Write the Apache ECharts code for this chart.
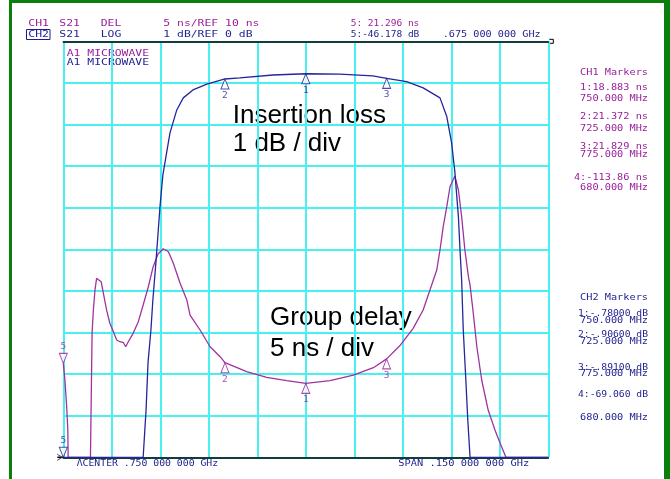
<!DOCTYPE html>
<html><head><meta charset="utf-8">
<script src="https://cdn.jsdelivr.net/npm/echarts@6/dist/echarts.min.js"></script>
<style>html,body{margin:0;padding:0;background:#fff}#c{width:670px;height:479px}</style>
</head><body><div id="c"></div>
<script>
// ---- data ----
const freqIL = [675, 699.7, 700.6, 701.2, 702.1, 702.7, 703.7, 704.9, 705.8, 707.1, 708.0, 710.1, 712.1, 715.1, 719.4, 725, 729.6, 739.8, 750, 760.5, 770.7, 775, 781.2, 786.3, 791.5, 793.6, 795.1, 796.1, 797.2, 797.7, 798.2, 798.7, 799.5, 800.1, 800.8, 825];
const insertionLoss = [-10, -10, -8.86, -7.73, -6.94, -6.22, -5.26, -3.98, -3.21, -2.61, -2.20, -1.65, -1.36, -1.17, -1.03, -0.906, -0.88, -0.81, -0.78, -0.79, -0.83, -0.891, -0.97, -1.12, -1.36, -1.81, -2.44, -3.14, -4.22, -5.02, -5.74, -6.94, -8.14, -9.10, -10, -10];
const freqGD = [675.0, 675.5, 676.05, 676.4, 676.5, 683.4, 683.9, 684.3, 684.8, 685.3, 685.8, 686.7, 687.4, 688.4, 689.4, 690.5, 691.5, 692.5, 693.6, 694.3, 695.1, 696.6, 698.2, 699.7, 701.3, 702.8, 704.3, 705.9, 707.5, 709.0, 711.1, 713.2, 714.2, 717.3, 720.4, 723.5, 725, 731.7, 737.9, 744.1, 750, 757.5, 764.7, 770.9, 775, 779.3, 783.2, 786.3, 788.4, 790.5, 791.5, 792.5, 793.6, 794.6, 796.1, 797.2, 798.2, 799.2, 800.3, 800.8, 801.8, 802.9, 804.4, 806.4, 808.5, 810.1, 811.9, 825];
const groupDelay = [21.30, 19.29, 16.08, 13.28, 10, 10, 24.94, 27.70, 30.11, 31.51, 31.71, 31.11, 29.71, 27.70, 26.11, 25.10, 24.10, 23.89, 23.77, 23.29, 23.89, 24.90, 26.30, 28.30, 30.50, 32.91, 34.43, 35.07, 34.71, 33.35, 30.95, 28.91, 27.10, 25.30, 23.29, 22.09, 21.372, 20.29, 19.61, 19.21, 18.883, 19.21, 19.89, 20.77, 21.829, 23.50, 25.50, 27.70, 30.11, 32.51, 34.92, 37.72, 40.12, 42.52, 43.81, 42.13, 38.92, 34.92, 31.71, 30.7, 27.31, 23.29, 19.29, 15.68, 13.28, 11.68, 10, 10];

const markerIds = ['1', '2', '3', '5'];
const markerFreq = [750, 725, 775, 675];
const markerDelay = [18.883, 21.372, 21.829, 21.296];
const markerLoss = [-0.78, -0.906, -0.891, -46.178];

const ch1Readout = ['1:18.883 ns', '2:21.372 ns', '3:21.829 ns', '4:-113.86 ns'];
const markerFreqText = ['750.000 MHz', '725.000 MHz', '775.000 MHz', '680.000 MHz'];
const ch2Readout = ['1:-.78000 dB', '2:-.90600 dB', '3:-.89100 dB', '4:-69.060 dB'];

const fMin = 675, fMax = 825, fStep = 15;
const dbMin = -10, dbMax = 0, dbStep = 1;
const nsMin = 10, nsMax = 60, nsStep = 5;

// ---- styles ----
const PURPLE = '#9a1e9a', BLUE = '#1e1e8e', TRACE_P = '#a032a0', TRACE_B = '#26269a';
const CYAN = '#48f0f0', GREEN = '#0b7f0b';
const MONO = '"DejaVu Sans Mono", monospace';
const SANS = '"Liberation Sans", Arial, sans-serif';

function txt(x, y, s, color, sx, align) {
  return { type: 'text', x: x, y: y, scaleX: sx || 1, silent: true,
    style: { text: s, fill: color, font: '9.5px ' + MONO, align: align || 'left', verticalAlign: 'middle' } };
}
function big(x, y, s) {
  return { type: 'text', x: x, y: y, silent: true,
    style: { text: s, fill: '#000', font: '26px ' + SANS, align: 'left', verticalAlign: 'middle' } };
}

const graphics = [
  { type: 'rect', shape: { x: 9, y: 0, width: 3, height: 479 }, style: { fill: GREEN } },
  { type: 'rect', shape: { x: 9, y: 0, width: 661, height: 3 }, style: { fill: GREEN } },
  { type: 'rect', shape: { x: 664, y: 0, width: 6, height: 479 }, style: { fill: GREEN } },
  // header
  txt(28.3, 24, 'CH1', PURPLE, 1.2), txt(59.3, 24, 'S21', PURPLE, 1.2), txt(100.7, 24, 'DEL', PURPLE, 1.2),
  txt(163.3, 24, '5 ns/REF 10 ns', PURPLE, 1.2), txt(350.7, 24, '5: 21.296 ns', PURPLE, 1.0),
  { type: 'rect', shape: { x: 26.5, y: 29.5, width: 23.5, height: 10 }, style: { fill: 'none', stroke: BLUE, lineWidth: 1 } },
  txt(28.3, 34.5, 'CH2', BLUE, 1.2), txt(59.3, 34.5, 'S21', BLUE, 1.2), txt(100.7, 34.5, 'LOG', BLUE, 1.2),
  txt(163.3, 34.5, '1 dB/REF 0 dB', BLUE, 1.2), txt(350.7, 34.5, '5:-46.178 dB', BLUE, 1.0),
  txt(442.7, 34.5, '.675 000 000 GHz', BLUE, 1.07),
  txt(66.7, 54, 'A1 MICROWAVE', PURPLE, 1.2), txt(66.7, 62.7, 'A1 MICROWAVE', BLUE, 1.2),
  // bottom
  txt(76.7, 463.3, '\u039BCENTER .750 000 000 GHz', BLUE, 1.03),
  txt(398.3, 463.3, 'SPAN .150 000 000 GHz', BLUE, 1.09),
  // right panel
  txt(648, 72.3, 'CH1 Markers', PURPLE, 1.08, 'right'),
  txt(648, 297.3, 'CH2 Markers', BLUE, 1.08, 'right'),
  // annotations
  big(232.7, 115.7, 'Insertion loss'), big(232.7, 144, '1 dB / div'),
  big(270, 317.5, 'Group delay'), big(270, 349, '5 ns / div')
];
const ch1Y = [87.3, 116.7, 146.7, 177.3], ch1FY = [98.3, 129, 154.3, 187.7];
const ch2Y = [313.3, 335, 367.3, 395], ch2FY = [320.7, 341.7, 373.3, 417.3];
ch1Readout.forEach((s, i) => { graphics.push(txt(648, ch1Y[i], s, PURPLE, 1.08, 'right')); graphics.push(txt(648, ch1FY[i], markerFreqText[i], PURPLE, 1.08, 'right')); });
ch2Readout.forEach((s, i) => { graphics.push(txt(648, ch2Y[i], s, BLUE, 1.02, 'right')); graphics.push(txt(648, ch2FY[i], markerFreqText[i], BLUE, 1.08, 'right')); });

const UP = 'path://M5,0L10,10L0,10Z', DOWN = 'path://M0,0L10,0L5,10Z';
function markerData(vals, lo) {
  return markerIds.map((id, i) => {
    const down = id === '5';
    return { value: [markerFreq[i], Math.max(vals[i], lo)], name: id,
      symbol: down ? DOWN : UP, symbolOffset: [0, down ? -5 : 5],
      label: { position: down ? 'top' : 'bottom', distance: 1 } };
  });
}
function markerSeries(vals, lo, yi, color) {
  return { type: 'scatter', yAxisIndex: yi, clip: false, z: 5, symbolSize: [8, 10],
    itemStyle: { color: '#fff', borderColor: color, borderWidth: 1 },
    label: { show: true, formatter: p => p.name, color: color, fontFamily: MONO, fontSize: 9.5 },
    data: markerData(vals, lo) };
}

const chart = echarts.init(document.getElementById('c'), null, { renderer: 'canvas' });
chart.setOption({
  animation: false,
  backgroundColor: '#fff',
  grid: { left: 63.3, right: 121.7, top: 41.3, bottom: 21.7 },
  xAxis: [
    { type: 'value', min: fMin, max: fMax, interval: fStep,
      axisLine: { show: true, onZero: false, lineStyle: { color: '#000', width: 1.5 } },
      axisTick: { show: false }, axisLabel: { show: false },
      splitLine: { show: true, lineStyle: { color: CYAN, width: 2 } } },
    { type: 'value', position: 'top', min: fMin, max: fMax, interval: fStep,
      axisLine: { show: true, onZero: false, lineStyle: { color: '#000', width: 1.5 } },
      axisTick: { show: false }, axisLabel: { show: false }, splitLine: { show: false } }
  ],
  yAxis: [
    { type: 'value', min: dbMin, max: dbMax, interval: dbStep,
      axisLine: { show: false }, axisTick: { show: false }, axisLabel: { show: false },
      splitLine: { show: true, lineStyle: { color: CYAN, width: 2 } } },
    { type: 'value', min: nsMin, max: nsMax, interval: nsStep,
      axisLine: { show: false }, axisTick: { show: false }, axisLabel: { show: false },
      splitLine: { show: false } }
  ],
  series: [
    { type: 'line', name: 'Group delay', yAxisIndex: 1, showSymbol: false, symbol: 'none', z: 3,
      lineStyle: { color: TRACE_P, width: 1.3 }, data: freqGD.map((f, i) => [f, groupDelay[i]]) },
    { type: 'line', name: 'Insertion loss', yAxisIndex: 0, showSymbol: false, symbol: 'none', z: 4,
      lineStyle: { color: TRACE_B, width: 1.3 }, data: freqIL.map((f, i) => [f, insertionLoss[i]]) },
    markerSeries(markerDelay, nsMin, 1, PURPLE),
    markerSeries(markerLoss, dbMin, 0, BLUE)
  ],
  graphic: graphics
});

// reference-position decorations derived from the axes
const pBL = chart.convertToPixel({ xAxisIndex: 0, yAxisIndex: 0 }, [fMin, dbMin]);
const pTR = chart.convertToPixel({ xAxisIndex: 0, yAxisIndex: 0 }, [fMax, dbMax]);
chart.setOption({ graphic: graphics.concat([
  { type: 'line', shape: { x1: pBL[0] - 6, y1: pBL[1], x2: pBL[0], y2: pBL[1] }, style: { stroke: '#000', lineWidth: 1.5 } },
  { type: 'polyline', shape: { points: [[pBL[0] - 6, pBL[1] - 3], [pBL[0] - 1, pBL[1]], [pBL[0] - 6, pBL[1] + 3]] }, style: { stroke: '#444', fill: 'none', lineWidth: 1 } },
  { type: 'polyline', shape: { points: [[pTR[0] + 1, pTR[1] - 2], [pTR[0] + 5, pTR[1] - 2], [pTR[0] + 5, pTR[1] + 2], [pTR[0] + 1, pTR[1] + 2]] }, style: { stroke: '#000', fill: 'none', lineWidth: 1 } }
]) });
</script>
</body></html>
